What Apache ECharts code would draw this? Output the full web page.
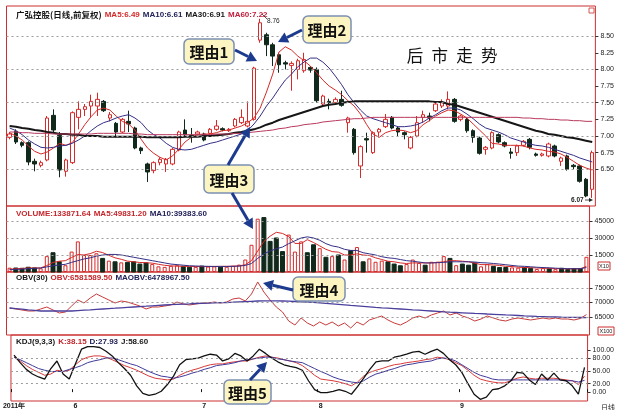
<!DOCTYPE html>
<html><head><meta charset="utf-8">
<script src="https://cdn.jsdelivr.net/npm/echarts@6/dist/echarts.min.js"></script>
<style>html,body{margin:0;padding:0;background:#fff}#c{width:617px;height:410px}</style>
</head><body><div id="c"></div>
<script>
// ---------- DATA ----------
const monthIdx = [0, 10, 31, 50, 73];
const monthText = ['2011年', '6', '7', '8', '9'];
// [open, close, low, high]
const candles = [
[6.98,7.03,6.95,7.06],[7.07,6.91,6.88,7.10],[6.90,6.86,6.83,6.92],[6.90,6.61,6.56,6.92],[6.62,6.58,6.47,6.66],
[6.56,6.60,6.53,6.63],[6.64,7.27,6.62,7.30],[7.31,7.09,7.05,7.40],[7.01,6.49,6.38,7.06],[6.47,6.64,6.39,6.66],
[6.60,7.35,6.58,7.37],[7.28,7.40,7.10,7.52],[7.40,7.44,7.30,7.48],[7.45,7.52,7.28,7.62],[7.45,7.55,7.30,7.65],
[7.52,7.38,7.36,7.54],[7.27,7.32,7.22,7.36],[7.19,7.06,6.98,7.21],[7.06,7.25,7.04,7.27],[7.22,7.18,7.06,7.38],
[7.12,6.82,6.80,7.14],[6.82,6.78,6.73,6.84],[6.58,6.46,6.31,6.60],[6.48,6.60,6.44,6.62],[6.60,6.65,6.56,6.68],
[6.58,6.65,6.46,6.67],[6.58,6.80,6.56,6.82],[6.79,7.06,6.77,7.08],[7.09,7.02,7.00,7.25],[7.01,6.99,6.90,7.12],
[7.03,7.06,7.01,7.08],[7.03,6.94,6.92,7.05],[7.04,7.10,7.02,7.12],[7.10,7.15,7.08,7.24],[7.11,7.09,7.07,7.13],
[7.08,7.10,7.06,7.12],[7.15,7.25,7.13,7.27],[7.20,7.28,7.18,7.40],[7.15,7.22,7.13,7.52],[7.25,8.02,7.23,8.04],
[8.44,8.70,8.40,8.76],[8.52,8.37,8.20,8.55],[8.37,8.20,8.05,8.40],[8.22,8.07,7.95,8.25],[8.10,8.08,8.00,8.13],
[8.06,8.09,7.68,8.12],[8.00,8.13,7.85,8.16],[7.98,8.15,7.95,8.25],[8.03,7.99,7.95,8.05],[8.00,7.53,7.50,8.03],
[7.48,7.60,7.45,7.62],[7.52,7.50,7.40,7.56],[7.50,7.55,7.48,7.58],[7.55,7.46,7.44,7.68],[7.20,7.27,7.05,7.29],
[7.10,6.75,6.72,7.12],[6.55,6.84,6.37,6.86],[6.96,6.94,6.75,7.05],[6.75,7.05,6.73,7.07],[7.06,7.10,6.98,7.12],
[7.14,7.25,7.12,7.33],[7.28,7.12,7.10,7.30],[7.12,7.06,7.00,7.14],[7.05,7.02,6.95,7.07],[6.82,6.98,6.80,7.00],
[7.00,7.20,6.98,7.30],[7.28,7.32,7.20,7.38],[7.30,7.27,7.22,7.35],[7.38,7.48,7.36,7.50],[7.45,7.50,7.42,7.55],
[7.45,7.55,7.40,7.67],[7.55,7.22,7.20,7.57],[7.25,7.30,7.22,7.32],[7.25,7.08,7.05,7.27],[7.08,6.98,6.90,7.10],
[6.97,6.74,6.72,6.99],[6.80,6.83,6.72,6.85],[6.82,7.05,6.80,7.07],[7.02,6.91,6.89,7.04],[6.90,6.85,6.83,6.92],
[6.76,6.74,6.66,6.82],[6.75,6.85,6.70,6.87],[6.86,6.92,6.84,6.94],[6.95,6.83,6.80,6.97],[6.73,6.71,6.69,6.75],
[6.71,6.73,6.69,6.75],[6.70,6.88,6.68,6.90],[6.85,6.70,6.68,6.87],[6.62,6.67,6.55,6.69],[6.70,6.50,6.48,6.72],
[6.56,6.54,6.50,6.58],[6.55,6.32,6.30,6.57],[6.35,6.10,6.08,6.37],[6.20,6.75,6.07,6.78]
];
const ma5 = [7.05,7.00,6.94,6.85,6.77,6.73,6.76,6.82,6.89,6.86,6.90,7.03,7.17,7.29,7.39,7.42,7.39,7.30,7.22,7.18,7.09,6.95,6.82,6.74,6.68,6.64,6.70,6.80,6.91,6.98,7.02,7.03,7.03,7.05,7.08,7.09,7.12,7.15,7.20,7.27,7.42,7.66,7.93,8.26,8.34,8.29,8.20,8.13,8.05,7.95,7.84,7.75,7.69,7.62,7.53,7.45,7.33,7.17,7.03,6.98,7.05,7.08,7.09,7.08,7.05,7.08,7.17,7.23,7.30,7.35,7.39,7.38,7.33,7.27,7.18,7.09,7.00,6.89,6.88,6.86,6.86,6.86,6.85,6.82,6.80,6.79,6.77,6.76,6.73,6.68,6.62,6.56,6.52,6.49];
const ma10 = [7.12,7.08,7.02,6.94,6.88,6.83,6.82,6.83,6.85,6.86,6.89,6.94,7.00,7.08,7.15,7.20,7.23,7.27,7.30,7.32,7.27,7.20,7.09,7.02,6.97,6.89,6.83,6.80,6.79,6.80,6.83,6.86,6.89,6.91,6.94,6.97,7.00,7.03,7.08,7.18,7.30,7.45,7.57,7.71,7.84,7.93,8.04,8.11,8.17,8.17,8.11,8.02,7.90,7.77,7.62,7.50,7.39,7.30,7.26,7.23,7.20,7.17,7.14,7.14,7.15,7.17,7.21,7.27,7.32,7.38,7.42,7.42,7.39,7.33,7.26,7.18,7.12,7.09,7.06,7.02,6.97,6.94,6.91,6.88,6.86,6.85,6.83,6.80,6.77,6.74,6.71,6.67,6.64,6.61];
const ma30 = [7.15,7.14,7.12,7.11,7.09,7.08,7.06,7.05,7.03,7.03,7.02,7.02,7.00,7.00,7.00,6.99,6.99,6.99,6.99,6.99,6.99,6.99,6.98,6.98,6.98,6.98,6.98,6.98,6.99,6.99,6.99,7.00,7.00,7.01,7.02,7.03,7.05,7.06,7.08,7.10,7.13,7.17,7.20,7.24,7.27,7.30,7.33,7.36,7.39,7.42,7.45,7.47,7.48,7.50,7.51,7.52,7.52,7.52,7.52,7.52,7.52,7.52,7.52,7.52,7.52,7.52,7.52,7.52,7.51,7.51,7.48,7.47,7.44,7.41,7.38,7.35,7.32,7.29,7.26,7.23,7.20,7.17,7.14,7.11,7.08,7.06,7.03,7.02,7.00,6.98,6.97,6.95,6.93,6.91];
const ma60 = [7.06,7.06,7.05,7.05,7.04,7.04,7.04,7.03,7.03,7.03,7.03,7.03,7.03,7.03,7.04,7.04,7.04,7.04,7.04,7.04,7.03,7.03,7.02,7.02,7.02,7.02,7.02,7.02,7.02,7.02,7.02,7.02,7.02,7.03,7.03,7.03,7.04,7.04,7.05,7.06,7.07,7.08,7.09,7.11,7.12,7.14,7.15,7.17,7.18,7.19,7.21,7.22,7.23,7.24,7.25,7.26,7.26,7.27,7.28,7.28,7.28,7.28,7.28,7.28,7.28,7.28,7.28,7.28,7.28,7.28,7.28,7.28,7.28,7.28,7.28,7.28,7.28,7.28,7.28,7.28,7.28,7.28,7.27,7.27,7.26,7.26,7.25,7.25,7.24,7.24,7.23,7.23,7.22,7.22];
// volume in units of 10 lots (axis shows x10)
const vol = [3800,3500,3200,4200,3600,3300,14000,17000,9000,6000,18000,27000,15000,15000,16500,12000,10000,9000,8500,8500,9000,7000,8000,7000,5000,4500,5500,6000,5000,4200,4500,5200,4800,5000,4300,4600,5500,6500,11000,24000,47000,48000,27000,30000,18000,33000,18000,27000,17000,24000,21000,13000,14000,15000,11000,19000,22000,9000,12000,9000,10000,9000,7000,5500,7000,11000,8000,6000,9000,9000,14000,12000,6000,7000,6000,8000,5000,7000,5000,4000,4000,4000,3800,4000,3200,2600,3400,2800,2500,3300,2200,2900,3100,13387.164];
const volMa5 = [2400,2800,3200,3500,3600,3600,5700,8400,9500,10000,12800,15400,15000,16200,18300,17100,14700,12500,11200,9600,9000,8400,8200,7800,6800,5900,5400,5200,5000,4900,4800,4800,4800,4900,5000,5000,5100,5400,6400,10000,18500,27000,31600,35000,34000,31200,25200,25200,28500,26000,23000,20000,18000,17500,15000,15000,16000,15000,14500,12500,11000,9500,9000,8000,7500,8000,8000,8000,8000,8500,9000,10000,10000,9500,9000,7800,6500,6500,6200,5800,5000,4800,4200,4000,3800,3500,3400,3200,2900,2900,2800,2800,2800,4983.12];
const volMa10 = [2000,2300,2600,2900,3200,3500,4500,5500,6200,6800,8500,10000,11500,12500,14000,15000,15500,15500,15000,14000,13000,12000,11000,10000,9000,8000,7000,6500,6000,5500,5300,5100,5000,4900,4900,4900,5000,5200,5800,7500,12000,16000,18500,20500,22000,25000,27500,30000,31000,30000,28000,25000,23000,22000,20000,19000,19000,17000,16000,15000,13500,12500,12000,11000,10000,9500,8800,8000,8000,8200,8500,9000,9000,9000,9000,8800,8200,8000,7500,7000,6400,5800,5200,5000,4600,4200,3900,3700,3400,3100,2900,2900,2900,3938.36];
// OBV in units of 100 (axis shows x100)
const obv = [68100,67760,67410,67070,67070,67760,68450,67410,66380,66720,68790,70860,69830,71550,72930,71900,70860,69830,70520,70170,69480,68790,67760,68450,68450,68790,69140,70170,69480,69140,69480,69830,69830,70170,69830,70170,71210,71550,70520,72930,77070,73620,70860,68450,66720,63620,62240,64660,62930,61900,63280,62240,63280,61900,62930,61210,63280,62240,63970,64660,65340,63970,62930,62240,63280,64660,65340,64660,65690,66380,67070,65690,66380,65340,64660,63620,64310,65340,64660,63970,63620,64310,64660,64310,63970,64310,64660,64310,64660,64310,64310,63970,64480,65815.895];
const maobv = [68100,67900,67690,67480,67280,67070,67070,67070,67070,67070,67070,67210,67350,67480,67620,67760,67900,68030,68170,68310,68450,68590,68720,68860,69000,69140,69240,69340,69450,69550,69660,69720,69790,69860,69930,70000,70100,70210,70310,70410,70520,70590,70590,70550,70520,70450,70340,70240,70170,70030,69900,69720,69550,69380,69210,69030,68860,68690,68520,68340,68170,68030,67900,67760,67620,67480,67350,67210,67070,66930,66790,66660,66550,66450,66350,66240,66140,66030,65930,65830,65720,65620,65520,65410,65310,65210,65140,65070,65000,64930,64900,64860,64830,64789.675];
const kVal = [83,74,63,54,47,40,43,52,49,52,65,77,83,86,86,83,77,70,63,58,52,45,38,33,31,29,31,40,47,52,56,61,65,67,67,70,72,74,74,79,83,86,83,81,77,74,70,63,52,40,31,29,27,24,20,15,24,38,47,52,56,61,65,67,70,72,74,77,79,83,81,77,70,63,52,40,31,27,24,22,22,27,33,36,33,31,33,33,33,31,29,27,18,38.15];
const dVal = [83,77,70,63,56,52,49,49,49,54,58,63,70,74,77,81,81,77,72,67,63,56,49,43,38,36,33,36,40,45,49,54,58,63,65,67,70,74,77,79,81,83,83,79,77,74,72,70,63,56,49,43,36,31,27,24,22,27,36,43,47,52,56,61,65,67,70,72,74,79,81,79,74,65,56,47,40,36,31,29,29,29,29,29,29,29,29,29,29,29,27,27,24,27.93];
const jVal = [88,70,54,43,36,31,56,74,43,31,67,102,108,108,106,97,86,70,56,40,15,-3,-8,-5,2,18,38,65,77,79,81,86,90,88,74,79,92,86,74,86,102,92,81,72,65,61,58,52,27,6,-1,-1,2,6,2,-5,13,33,54,72,74,74,83,86,90,95,97,90,97,102,92,77,65,47,20,-5,-17,-12,6,8,15,27,47,45,29,18,43,29,45,29,27,15,-5,58.6];
const priceTicks = [6.5,6.75,7,7.25,7.5,7.75,8,8.25,8.5];
const priceGrid = [6.5,7,7.5,8,8.5];
const volTicks = [15000,30000,45000];
const obvTicks = [65000,70000,75000];
const kdjTicks = [0,20,50,80,100];
const kdjGrid = [20,50,80];

// ---------- STYLE ----------
const RED='#d62a2a', NAVY='#352f86', DARK='#161616', MAROON='#b83a5e', BORDER='#cc2e2e', DOWN='#10291a';
const AC='#1d3b8e';
const N = candles.length;
const cats = candles.map((_, i) => 'd' + i);
const isUp = candles.map(c => c[1] >= c[0]);

function dashLines(vals){
  return {silent:true, symbol:'none', label:{show:false}, animation:false,
    lineStyle:{type:[2,3], color:'#9c9c9c', width:1},
    data: vals.map(v => ({yAxis:v}))};
}
const grids = [
  {left:6.5, top:6, width:589.5, height:200},
  {left:6.5, top:206, width:589.5, height:66},
  {left:6.5, top:272, width:589.5, height:63},
  {left:6.5, top:335, width:589.5, height:69}
].map(g => Object.assign(g, {show:true, borderColor:BORDER, borderWidth:1, backgroundColor:'transparent'}));

function xAx(i){
  const last = i === 3;
  return {type:'category', gridIndex:i, data:cats, boundaryGap:true,
    axisLine:{show:false},
    axisTick:{show:last, interval:(idx)=>monthIdx.includes(idx), length:3, inside:true, lineStyle:{color:DARK}},
    axisLabel:{show:last, interval:0, fontSize:7, fontWeight:'bold', color:DARK, margin:2,
      formatter:(v, idx)=>{const k = monthIdx.indexOf(idx); return k >= 0 ? monthText[k] : '';}},
    splitLine:{show:false}};
}
function yAx(i, min, max, ticks, fmt){
  return {type:'value', gridIndex:i, position:'right', min, max, scale:true,
    axisLine:{show:false},
    axisTick:{show:true, customValues:ticks, length:3, lineStyle:{color:'#333'}},
    axisLabel:{show:true, customValues:ticks, fontSize:7, color:'#222', margin:5, formatter:fmt,
      fontFamily:'Liberation Sans'},
    splitLine:{show:false}};
}
const lineS = (name, data, color, xi, w) => ({name, type:'line', data, xAxisIndex:xi, yAxisIndex:xi,
  showSymbol:false, symbol:'none', lineStyle:{color, width:w||1}, itemStyle:{color}, z:3, animation:false});

const series = [
  {name:'K线', type:'candlestick', data:candles.map(c=>[c[0],c[1],c[2],c[3]]), xAxisIndex:0, yAxisIndex:0,
   barWidth:4, itemStyle:{color:'#ffffff', color0:DOWN, borderColor:RED, borderColor0:DOWN, borderWidth:1},
   markLine: dashLines(priceGrid), animation:false, z:2},
  lineS('MA5', ma5, RED, 0, 1),
  lineS('MA10', ma10, NAVY, 0, 1),
  lineS('MA30', ma30, DARK, 0, 2),
  lineS('MA60', ma60, MAROON, 0, 1),
  {name:'VOL', type:'bar', xAxisIndex:1, yAxisIndex:1, barWidth:4, animation:false,
   data: vol.map((v,i)=>({value:v, itemStyle: isUp[i] ? {color:'#ffffff', borderColor:RED, borderWidth:1} : {color:DOWN, borderColor:DOWN}})),
   markLine: dashLines(volTicks)},
  lineS('VMA5', volMa5, RED, 1, 1),
  lineS('VMA10', volMa10, NAVY, 1, 1),
  Object.assign(lineS('OBV', obv, '#c83a3a', 2, 1), {markLine: dashLines(obvTicks)}),
  lineS('MAOBV', maobv, '#4a3f9c', 2, 1.3),
  Object.assign(lineS('K', kVal, '#d83a3a', 3, 1), {markLine: dashLines(kdjGrid)}),
  lineS('D', dVal, '#3f3a9a', 3, 1),
  lineS('J', jVal, '#111111', 3, 1.3)
];

// ---------- ANNOTATIONS ----------
function arrow(x1,y1,x2,y2){
  const a=Math.atan2(y2-y1,x2-x1), L=10, W=5.5;
  const bx=x2-L*Math.cos(a), by=y2-L*Math.sin(a);
  return [
    {type:'line', z:100, shape:{x1,y1,x2:bx,y2:by}, style:{stroke:AC, lineWidth:3}},
    {type:'polygon', z:100, shape:{points:[[x2,y2],[bx+W*Math.sin(a),by-W*Math.cos(a)],[bx-W*Math.sin(a),by+W*Math.cos(a)]]}, style:{fill:AC}}
  ];
}
function box(x,y,w,h,text){
  return [
    {type:'rect', z:100, shape:{x,y,width:w,height:h,r:5}, style:{fill:'#fcf5c2', stroke:'#7b8fb2', lineWidth:1.5}},
    {type:'text', z:101, x:x+w/2, y:y+h/2+1, style:{text, align:'center', verticalAlign:'middle',
      fontSize:15, fontWeight:'bold', fontFamily:'Noto Sans CJK SC', fill:'#111'}}
  ];
}
const lf = 'Liberation Sans';
function legend(x, y, parts){
  const rich = {}; let txt = '';
  parts.forEach((p, i) => { rich['p'+i] = {fill:p[1], fontSize:p[2]||8, fontWeight:'bold', fontFamily:p[3]||lf, padding:[0,3,0,0]}; txt += '{p'+i+'|'+p[0]+'}'; });
  return {type:'text', z:100, x, y, style:{text:txt, rich, verticalAlign:'middle'}};
}
const L = N - 1;
const graphics = [
  legend(16, 15, [['广弘控股(日线,前复权)', DARK, 8.5, 'Noto Sans CJK SC'], ['MA5:'+ma5[L].toFixed(2), RED], ['MA10:'+ma10[L].toFixed(2), '#23225a'], ['MA30:'+ma30[L].toFixed(2), DARK], ['MA60:'+ma60[L].toFixed(2), '#c0203e']]),
  legend(16, 214, [['VOLUME:'+(vol[L]*10).toFixed(2), '#c4262c'], ['MA5:'+(volMa5[L]*10).toFixed(2), '#c4262c'], ['MA10:'+(volMa10[L]*10).toFixed(2), '#23225a']]),
  legend(16, 278, [['OBV(30)', DARK], ['OBV:'+(obv[L]*100).toFixed(2), '#c4262c'], ['MAOBV:'+(maobv[L]*100).toFixed(2), '#23225a']]),
  legend(16, 342, [['KDJ(9,3,3)', DARK], ['K:'+kVal[L].toFixed(2), '#c4262c'], ['D:'+dVal[L].toFixed(2), '#23225a'], ['J:'+jVal[L].toFixed(2), DARK]]),
  // high / low marks
  {type:'line', z:100, shape:{x1:262,y1:14,x2:267,y2:19}, style:{stroke:'#333', lineWidth:0.8}},
  {type:'text', z:100, x:267, y:21, style:{text:'8.76', fontSize:6.5, fill:'#222', verticalAlign:'middle', fontFamily:lf}},
  {type:'text', z:100, x:571, y:200, style:{text:'6.07', fontSize:6.5, fill:'#222', verticalAlign:'middle', fontFamily:lf, fontWeight:'bold'}},
  {type:'line', z:100, shape:{x1:585,y1:200,x2:591,y2:200}, style:{stroke:'#222', lineWidth:0.8}},
  {type:'polygon', z:100, shape:{points:[[593,200],[589,198],[589,202]]}, style:{fill:'#222'}},
  // right side boxes
  {type:'rect', z:100, shape:{x:598,y:262,width:12,height:8}, style:{fill:'#fff', stroke:BORDER, lineWidth:1}},
  {type:'text', z:101, x:604, y:266.5, style:{text:'X10', fontSize:5.5, fill:'#222', align:'center', verticalAlign:'middle', fontFamily:lf}},
  {type:'rect', z:100, shape:{x:598,y:327,width:16,height:8}, style:{fill:'#fff', stroke:BORDER, lineWidth:1}},
  {type:'text', z:101, x:606, y:331.5, style:{text:'X100', fontSize:5.5, fill:'#222', align:'center', verticalAlign:'middle', fontFamily:lf}},
  {type:'text', z:100, x:601, y:407, style:{text:'日线', fontSize:7, fill:'#222', verticalAlign:'middle', fontFamily:'Noto Sans CJK SC'}},
  {type:'rect', z:100, shape:{x:589,y:8,width:5,height:5}, style:{fill:'#fff', stroke:BORDER, lineWidth:0.8}},
  // title text
  {type:'text', z:100, x:452, y:56, style:{text:'后\u2002市\u2002走\u2002势', fontSize:16.5, fill:'#111', align:'center', verticalAlign:'middle', fontFamily:'Noto Sans CJK SC'}},
  ...box(184, 39, 50, 25, '理由1'), ...arrow(235, 50, 257, 61),
  ...box(303, 16, 48, 27, '理由2'), ...arrow(302, 30, 278, 42),
  ...box(204, 165, 50, 28, '理由3'), ...arrow(228, 165, 250, 127), ...arrow(232, 193, 253, 229),
  ...box(293, 277, 52, 24, '理由4'), ...arrow(293, 290, 263, 283),
  ...box(224, 380, 47, 24, '理由5'), ...arrow(250, 380, 267, 362)
];

const chart = echarts.init(document.getElementById('c'), null, {renderer:'canvas'});
chart.setOption({
  animation:false,
  backgroundColor:'#ffffff',
  grid: grids,
  xAxis: [0,1,2,3].map(xAx),
  yAxis: [
    yAx(0, 5.949, 8.952, priceTicks, v=>v.toFixed(2)),
    yAx(1, 0, 58200, volTicks, v=>String(v)),
    yAx(2, 58794, 80516, obvTicks, v=>String(v)),
    yAx(3, -21.1, 135.7, kdjTicks, v=>v.toFixed(2))
  ],
  series,
  graphic: graphics
});
</script></body></html>
